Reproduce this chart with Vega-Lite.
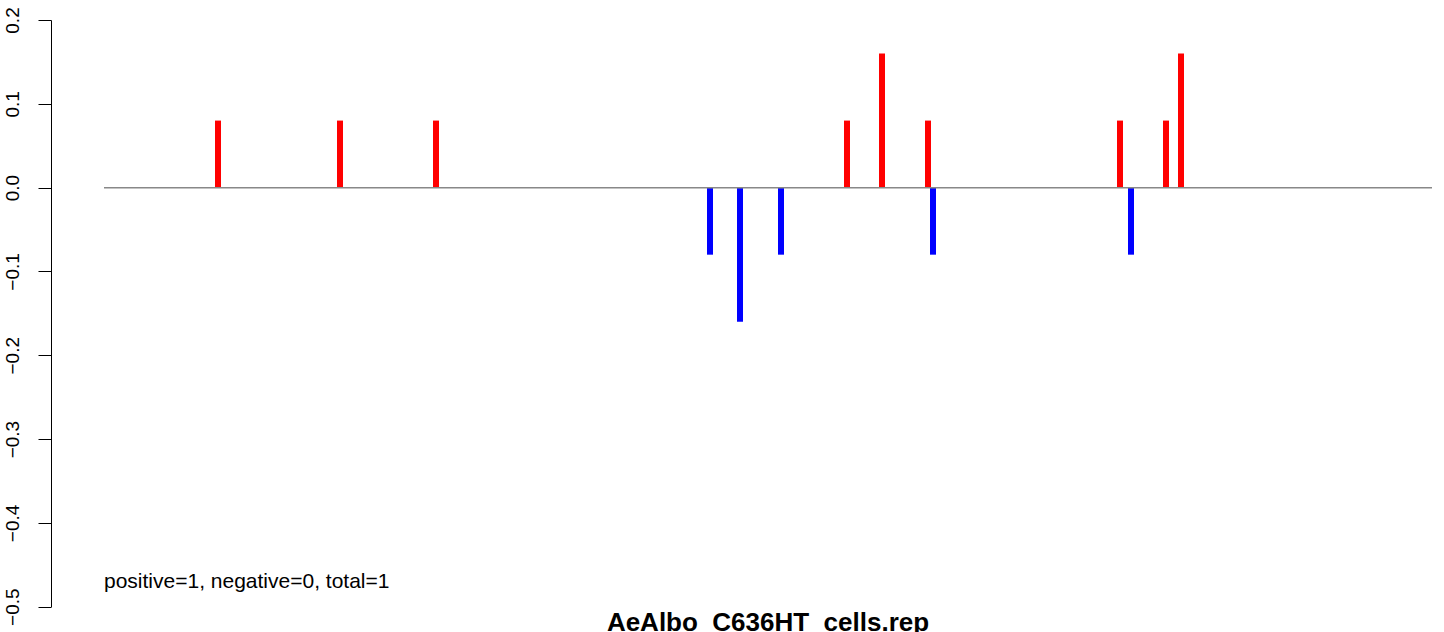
{
  "$schema": "https://vega.github.io/schema/vega-lite/v6.json",
  "autosize": "none",
  "width": 1393,
  "height": 586.7,
  "padding": {"left": 51, "top": 20, "right": 0, "bottom": 25.3},
  "background": "white",
  "config": {
    "view": {"stroke": null},
    "font": "Liberation Sans"
  },
  "title": {
    "text": "AeAlbo_C636HT_cells.rep",
    "orient": "bottom",
    "anchor": "middle",
    "frame": "group",
    "dx": 20.5,
    "offset": 6,
    "baseline": "alphabetic",
    "fontSize": 26,
    "fontWeight": "bold",
    "font": "Liberation Sans",
    "color": "black"
  },
  "layer": [
    {
      "data": {"values": [
        {"pos": 167, "value": 0.08, "sign": "pos"},
        {"pos": 289, "value": 0.08, "sign": "pos"},
        {"pos": 385, "value": 0.08, "sign": "pos"},
        {"pos": 659, "value": -0.08, "sign": "neg"},
        {"pos": 689, "value": -0.16, "sign": "neg"},
        {"pos": 730, "value": -0.08, "sign": "neg"},
        {"pos": 796, "value": 0.08, "sign": "pos"},
        {"pos": 831, "value": 0.16, "sign": "pos"},
        {"pos": 877, "value": 0.08, "sign": "pos"},
        {"pos": 882, "value": -0.08, "sign": "neg"},
        {"pos": 1069, "value": 0.08, "sign": "pos"},
        {"pos": 1080, "value": -0.08, "sign": "neg"},
        {"pos": 1115, "value": 0.08, "sign": "pos"},
        {"pos": 1130, "value": 0.16, "sign": "pos"}
      ]},
      "mark": {"type": "rule", "strokeWidth": 6, "strokeCap": "butt"},
      "encoding": {
        "x": {"field": "pos", "type": "quantitative", "scale": {"domain": [0, 1393], "nice": false, "zero": false}, "axis": null},
        "y": {"field": "value", "type": "quantitative", "scale": {"domain": [-0.5, 0.2], "nice": false, "zero": false},
          "axis": {
            "values": [-0.5, -0.4, -0.3, -0.2, -0.1, 0, 0.1, 0.2],
            "format": ".1f",
            "title": null,
            "grid": false,
            "domainColor": "black",
            "domainWidth": 1,
            "tickColor": "black",
            "tickWidth": 1,
            "tickSize": 13,
            "labelAngle": -90,
            "labelAlign": "center",
            "labelBaseline": "alphabetic",
            "labelPadding": 20,
            "labelFontSize": 19,
            "labelFont": "Liberation Sans",
            "labelColor": "black",
            "labelOverlap": false,
            "labelFlush": false
          }
        },
        "y2": {"datum": 0},
        "color": {"field": "sign", "type": "nominal", "scale": {"domain": ["pos", "neg"], "range": ["#FF0000", "#0000FF"]}, "legend": null}
      }
    },
    {
      "data": {"values": [{"x": 53, "x2": 1381, "y": 0}]},
      "mark": {"type": "rule", "color": "#888888", "strokeWidth": 1.5},
      "encoding": {
        "x": {"field": "x", "type": "quantitative"},
        "x2": {"field": "x2"},
        "y": {"field": "y", "type": "quantitative"}
      }
    },
    {
      "data": {"values": [{"x": 53, "y": -0.47, "label": "positive=1, negative=0, total=1"}]},
      "mark": {"type": "text", "align": "left", "baseline": "middle", "fontSize": 21, "font": "Liberation Sans", "color": "black"},
      "encoding": {
        "x": {"field": "x", "type": "quantitative"},
        "y": {"field": "y", "type": "quantitative"},
        "text": {"field": "label"}
      }
    }
  ]
}
